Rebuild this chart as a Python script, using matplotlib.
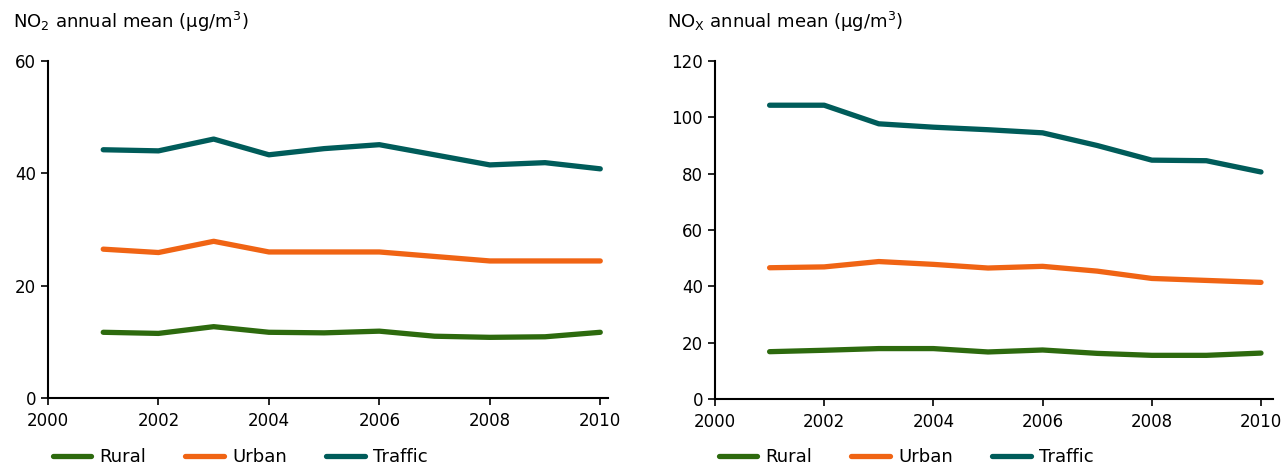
import matplotlib
matplotlib.use("Agg")
import matplotlib.pyplot as plt

years = [2001, 2002, 2003, 2004, 2005, 2006, 2007, 2008, 2009, 2010]
series_names = ["Rural", "Urban", "Traffic"]
colors = ["#2D6A0E", "#F06414", "#005C5A"]

no2_rural = [11.7, 11.5, 12.7, 11.7, 11.6, 11.9, 11.0, 10.8, 10.9, 11.7]
no2_urban = [26.5, 25.9, 27.9, 26.0, 26.0, 26.0, 25.2, 24.4, 24.4, 24.4]
no2_traffic = [44.2, 44.0, 46.1, 43.3, 44.4, 45.1, 43.3, 41.5, 41.9, 40.8]

nox_rural = [16.8, 17.3, 17.9, 17.9, 16.7, 17.4, 16.2, 15.5, 15.5, 16.3]
nox_urban = [46.6, 46.9, 48.8, 47.8, 46.5, 47.1, 45.4, 42.8, 42.1, 41.4]
nox_traffic = [104.3, 104.3, 97.7, 96.5, 95.6, 94.5, 90.0, 84.8, 84.6, 80.6]

x_ticks = [2000, 2002, 2004, 2006, 2008, 2010]
no2_yticks = [0, 20, 40, 60]
nox_yticks = [0, 20, 40, 60, 80, 100, 120]

plt.rcParams['font.family'] = ['DejaVu Sans']
fig = plt.figure(figsize=(12.84, 4.67), dpi=100)

W, H = 1284, 467
def axes_px(x0, x1, ytop, ybot):
    return fig.add_axes([x0 / W, (H - ybot) / H, (x1 - x0) / W, (ybot - ytop) / H])

ax1 = axes_px(48, 608, 61, 398)
ax2 = axes_px(715, 1273, 61, 399)

def style(ax, data, yticks, xmax, title, titlex, legx):
    lines = []
    for vals, name, c in zip(data, series_names, colors):
        ln, = ax.plot(years, vals, color=c, lw=3.8, solid_capstyle='round',
                      solid_joinstyle='round', label=name)
        lines.append(ln)
    ax.set_xlim(2000, xmax)
    ax.set_ylim(yticks[0], yticks[-1])
    ax.set_xticks(x_ticks)
    ax.set_yticks(yticks)
    for s in ['top', 'right']:
        ax.spines[s].set_visible(False)
    for s in ['left', 'bottom']:
        ax.spines[s].set_linewidth(1.5)
    ax.tick_params(axis='both', labelsize=12, length=5, width=1.2, colors='black')
    ax.tick_params(axis='x', pad=5)
    fig.text(titlex / W, (H - 22) / H, title, fontsize=13, ha='left', va='center')
    fig.legend(lines, series_names, loc='center', bbox_to_anchor=(legx / W, (H - 457) / H),
               ncol=3, frameon=False, fontsize=13, handlelength=2.15, columnspacing=2.15,
               handletextpad=0.45, borderaxespad=0, borderpad=0)

style(ax1, [no2_rural, no2_urban, no2_traffic], no2_yticks, 2010.14,
      "NO$_2$ annual mean (µg/m$^3$)", 13, 240)
style(ax2, [nox_rural, nox_urban, nox_traffic], nox_yticks, 2010.22,
      "NO$_\\mathregular{X}$ annual mean (µg/m$^3$)", 667, 906)

fig.savefig("out.png", dpi=100)
